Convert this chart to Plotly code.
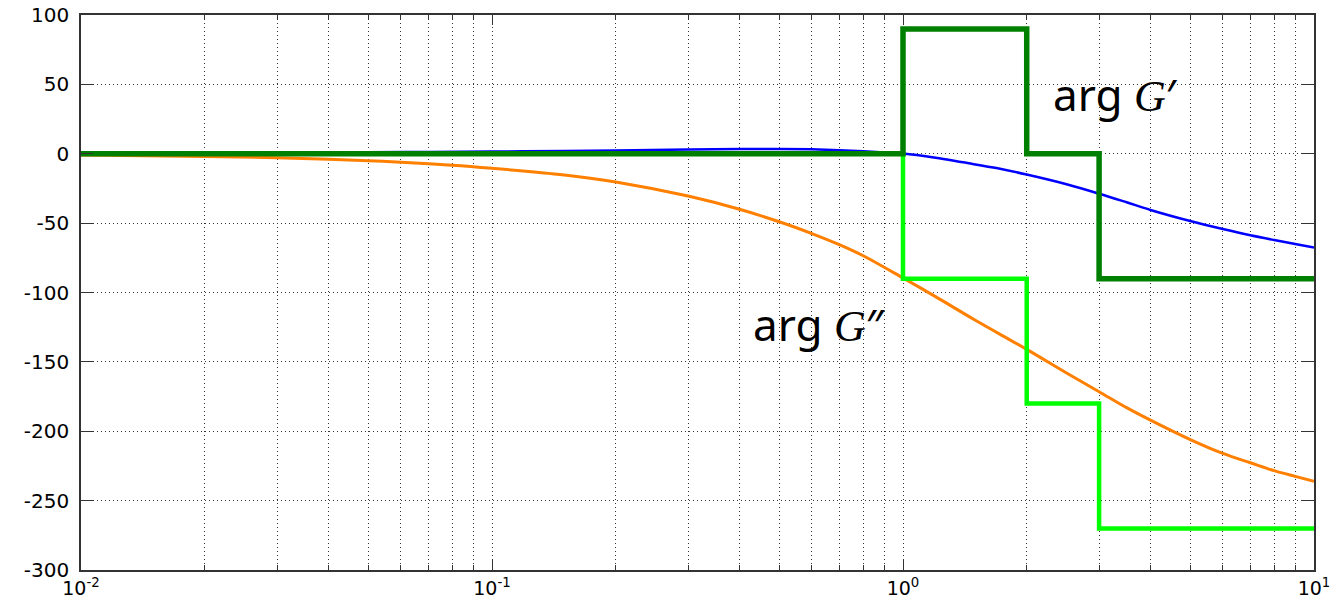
import plotly.graph_objects as go

# ---- data ----
step_x = [0.01, 1, 2, 3, 10]
arg_G1_steps = [0, 90, 0, -90, -90]        # dark green (arg G')
arg_G2_steps = [0, -90, -180, -270, -270]  # light green (arg G'')

blue_x = [0.01, 0.03, 0.05, 0.07, 0.1, 0.15, 0.2, 0.3, 0.4, 0.5, 0.6, 0.7, 0.8, 0.9, 1.0,
          1.2, 1.4, 1.7, 2.0, 2.5, 3.0, 3.5, 4.0, 5.0, 6.0, 7.0, 8.0, 9.0, 10.0]
blue_y = [0.2, 0.6, 1.0, 1.3, 1.6, 2.0, 2.4, 3.0, 3.4, 3.5, 3.2, 2.6, 1.8, 0.9, 0.2,
          -2.8, -6.2, -10.5, -15.0, -22.0, -28.8, -35.0, -40.5, -48.5, -54.3, -58.8, -62.2, -65.0, -67.5]

orange_x = [0.01, 0.02, 0.03, 0.04, 0.05, 0.06, 0.08, 0.1, 0.15, 0.2, 0.3, 0.4, 0.5, 0.6, 0.7,
            0.8, 1.0, 1.2, 1.5, 2.0, 2.5, 3.0, 3.5, 4.0, 5.0, 6.0, 7.0, 8.0, 9.0, 10.0]
orange_y = [-0.9, -1.9, -2.9, -4.0, -5.0, -6.2, -8.3, -10.5, -15.3, -20.3, -30.5, -40.0, -49.0, -57.5, -65.5,
            -73.5, -89.5, -103.0, -120.0, -141.0, -158.0, -171.5, -183.0, -192.0, -206.0, -216.0, -222.7, -228.4,
            -232.5, -236.0]

x_tickvals = [0.01, 0.1, 1, 10]
x_ticktext = ["10<sup>-2</sup>", "10<sup>-1</sup>", "10<sup>0</sup>", "10<sup>1</sup>"]
y_tickvals = [-300, -250, -200, -150, -100, -50, 0, 50, 100]
y_ticktext = ["-300", "-250", "-200", "-150", "-100", "-50", "0", "50", "100"]

fig = go.Figure()
fig.add_trace(go.Scatter(x=blue_x, y=blue_y, mode="lines",
                         line=dict(color="#0000FF", width=2.5, shape="spline", smoothing=1.0)))
fig.add_trace(go.Scatter(x=orange_x, y=orange_y, mode="lines",
                         line=dict(color="#FF8000", width=3, shape="spline", smoothing=1.0)))
fig.add_trace(go.Scatter(x=step_x, y=arg_G2_steps, mode="lines",
                         line=dict(color="#00FF00", width=4.5, shape="hv")))
fig.add_trace(go.Scatter(x=step_x, y=arg_G1_steps, mode="lines",
                         line=dict(color="#008000", width=5.5, shape="hv")))

grid_col = "#333333"
grid_dash = "1px,3px"
fig.update_xaxes(type="log", range=[-2, 1], tickvals=x_tickvals, ticktext=x_ticktext,
                 ticks="inside", ticklen=10, tickcolor="#333", tickwidth=1,
                 showline=True, linecolor="#333", linewidth=1.5, mirror="ticks",
                 showgrid=True, gridcolor=grid_col, griddash=grid_dash, gridwidth=1,
                 minor=dict(dtick="D1", ticks="inside", ticklen=5, tickcolor="#333",
                            showgrid=True, gridcolor=grid_col, griddash=grid_dash, gridwidth=1),
                 tickfont=dict(family="DejaVu Sans", size=19, color="#000"),
                 ticklabelstandoff=0, ticklabeloverflow="allow", automargin=False, zeroline=False)
fig.update_yaxes(range=[-300, 100], tickvals=y_tickvals, ticktext=y_ticktext,
                 ticks="inside", ticklen=12, tickcolor="#333", tickwidth=1,
                 showline=True, linecolor="#333", linewidth=1.5, mirror="ticks",
                 showgrid=True, gridcolor=grid_col, griddash=grid_dash, gridwidth=1,
                 tickfont=dict(family="DejaVu Sans", size=20, color="#000"),
                 ticklabelstandoff=6, ticklabeloverflow="allow", automargin=False, zeroline=False)

ann_font = dict(family="Noto Sans, DejaVu Sans", size=44, color="#000")
fig.add_annotation(xref="paper", yref="y", x=0.787, y=43, xanchor="left", yanchor="middle",
                   text="arg <span style='font-family:Liberation Serif;font-style:italic'>G</span>′",
                   showarrow=False, font=ann_font)
fig.add_annotation(xref="paper", yref="y", x=0.543, y=-123, xanchor="left", yanchor="middle",
                   text="arg <span style='font-family:Liberation Serif;font-style:italic'>G</span>″",
                   showarrow=False, font=ann_font)

fig.update_layout(width=1337, height=602, showlegend=False,
                  plot_bgcolor="white", paper_bgcolor="white",
                  margin=dict(l=81, r=23, t=15, b=32))
fig.write_html("out.html", config={"displayModeBar": False},
               post_script="document.body.style.margin='0';document.body.style.overflow='hidden';")
